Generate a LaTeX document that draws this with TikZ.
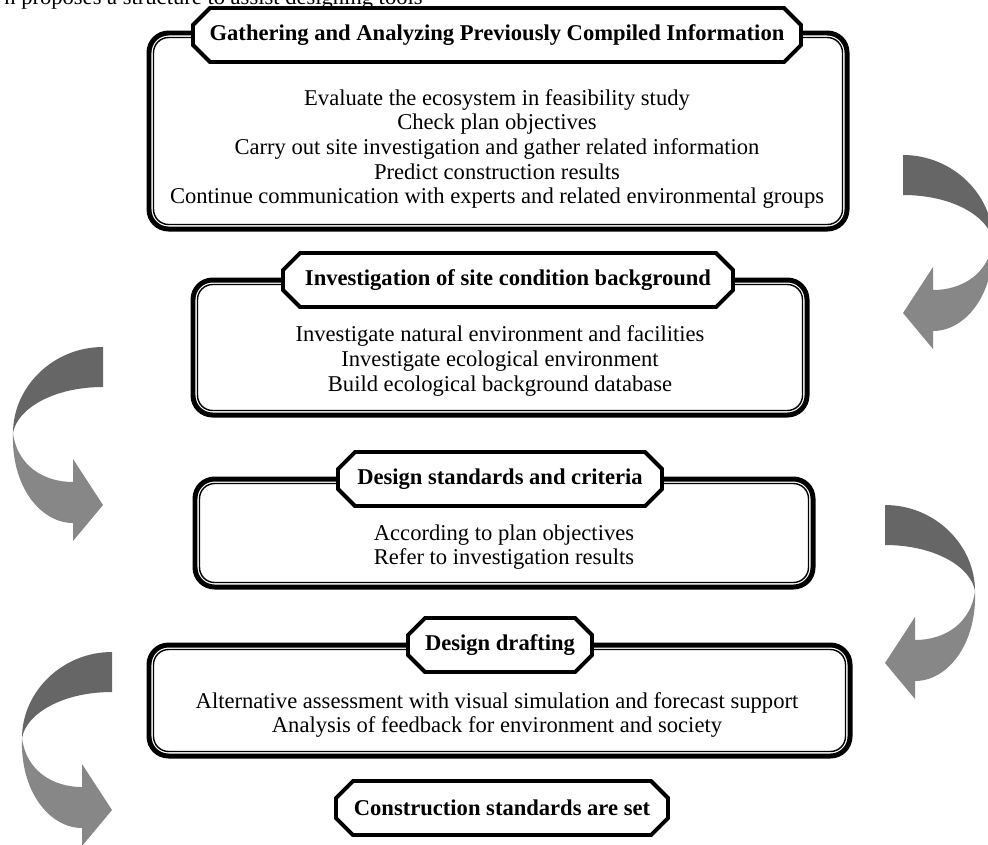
\documentclass[tikz,border=0pt]{standalone}
\usepackage{fontspec}
\setmainfont{Liberation Serif}
\usetikzlibrary{calc}
\definecolor{ribbondark}{HTML}{666666}
\definecolor{ribbonlight}{HTML}{878787}
\tikzset{
	boxtext/.style={font=\fontsize{12.7}{13.8}\selectfont, align=center, inner sep=0pt},
	tagtext/.style={font=\bfseries\fontsize{12.7}{13.8}\selectfont, inner sep=0pt},
	tagline/.style={line width=2.2pt, fill=white}
}
\def\dblframe(#1,#2)(#3,#4){%
	\draw[line width=2.8pt, rounded corners=11pt] (#1,#2) rectangle (#3,#4);
	\draw[line width=0.8pt, rounded corners=8.5pt] (#1+4.5,#2+4.5) rectangle (#3-4.5,#4-4.5);}
\def\tagframe(#1,#2,#3){\draw[tagline] (#1-#3+17,#2-27) -- (#1+#3-17,#2-27) -- (#1+#3,#2-10) -- (#1+#3,#2+10) -- (#1+#3-17,#2+27) -- (#1-#3+17,#2+27) -- (#1-#3,#2+10) -- (#1-#3,#2-10) -- cycle;}
\def\bentarrow(#1,#2)[#3]{%
	\begin{scope}[shift={(#1,#2)}, xscale=#3]
		\fill[ribbondark] (0,0) .. controls (50,0) and (90,40) .. (90,86) .. controls (86,62) and (50,40) .. (0,40) -- cycle;
		\fill[ribbonlight] (90,86) .. controls (92,140) and (62,176) .. (30,176) -- (30,194) -- (0,158) -- (30,112) -- (30,135) .. controls (60,135) and (86,118) .. (90,86) -- cycle;
	\end{scope}}

\begin{document}
\begin{tikzpicture}[x=0.5625pt, y=-0.5625pt]
			%%%%% START %%%%%
			\useasboundingbox (0,0) rectangle (988,844);
			
			\begin{scope}
				\clip (0,0) rectangle (480,844);
				\node[boxtext, anchor=base west] (intro) at (4,4) {n proposes a structure to assist designing tools};
			\end{scope}
			
			\dblframe(149,33)(847,229)
			\tagframe(497,35,304)
			\node[tagtext] (gather) at (497,35) {Gathering and Analyzing Previously Compiled Information};
			\node[boxtext] (gatherlist) at (497,149) {Evaluate the ecosystem in feasibility study\\Check plan objectives\\Carry out site investigation and gather related information\\Predict construction results\\Continue communication with experts and related environmental groups};
			
			\dblframe(193,280)(807,415)
			\tagframe(508,280,225)
			\node[tagtext] (site) at (508,280) {Investigation of site condition background};
			\node[boxtext] (sitelist) at (500,361) {Investigate natural environment and facilities\\Investigate ecological environment\\Build ecological background database};
			
			\dblframe(195,479)(813,587)
			\tagframe(500,479,162)
			\node[tagtext] (criteria) at (500,479) {Design standards and criteria};
			\node[boxtext] (criterialist) at (504,547) {According to plan objectives\\Refer to investigation results};
			
			\dblframe(149,645)(850,756)
			\tagframe(500,645,92)
			\node[tagtext] (draft) at (500,645) {Design drafting};
			\node[boxtext] (draftlist) at (497,715) {Alternative assessment with visual simulation and forecast support\\Analysis of feedback for environment and society};
			
			\tagframe(502,808,166)
			\node[tagtext] (standards) at (502,808) {Construction standards are set};
			
			\bentarrow(903,155)[1]
			\bentarrow(103,347)[-1]
			\bentarrow(885,505)[1]
			\bentarrow(112,652)[-1]
			
			%%%%% END %%%%%
\end{tikzpicture}
\end{document}
